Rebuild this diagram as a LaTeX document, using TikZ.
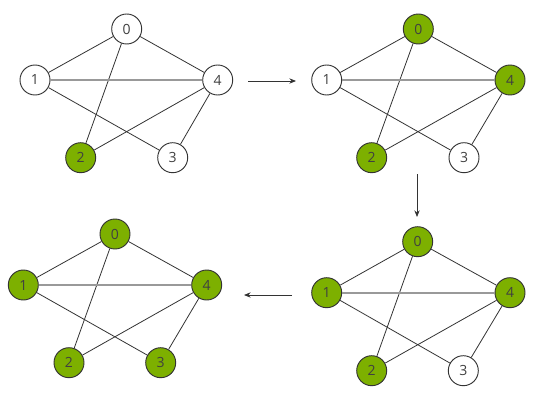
\documentclass[tikz,border=0pt]{standalone}
\usepackage{fontspec}
\setmainfont{Open Sans}
\usetikzlibrary{arrows.meta}
\definecolor{vgreen}{HTML}{7DB000}
\definecolor{edgec}{HTML}{333333}
\begin{document}
\begin{tikzpicture}[x=0.75pt,y=-0.75pt,
  vert/.style={circle,draw=edgec,line width=0.7pt,minimum size=22.5pt,inner sep=0pt,font=\fontsize{10.5}{12}\selectfont,text=black!75},
  wv/.style={vert,fill=white},
  gv/.style={vert,fill=vgreen},
  edge/.style={draw=edgec,line width=0.6pt},
  hedge/.style={draw=gray!80,line width=1.2pt},
  flow/.style={draw=edgec,line width=0.6pt,-{Stealth[length=5pt,width=4pt]}}]
\useasboundingbox (0,0) rectangle (541,406);
% graph A
\node[wv] (a0) at (126.7,29) {0};
\node[wv] (a1) at (35,80) {1};
\node[wv] (a4) at (217.7,80) {4};
\node[gv] (a2) at (80.7,157.7) {2};
\node[wv] (a3) at (172.7,157.7) {3};
% graph B
\node[gv] (b0) at (418.3,29) {0};
\node[wv] (b1) at (326.7,80) {1};
\node[gv] (b4) at (510,80) {4};
\node[gv] (b2) at (371.7,157.7) {2};
\node[wv] (b3) at (464,157.7) {3};
% graph C
\node[gv] (c0) at (417.7,241.7) {0};
\node[gv] (c1) at (326.7,292.7) {1};
\node[gv] (c4) at (510,292.7) {4};
\node[gv] (c2) at (371.7,370.7) {2};
\node[wv] (c3) at (463.3,370.7) {3};
% graph D
\node[gv] (d0) at (115,234) {0};
\node[gv] (d1) at (23.3,285) {1};
\node[gv] (d4) at (206.7,285) {4};
\node[gv] (d2) at (69,362.7) {2};
\node[gv] (d3) at (160.7,362.7) {3};
\foreach \g in {a,b,c,d}{
  \path[edge] (\g0) -- (\g1);
  \path[edge] (\g0) -- (\g4);
  \path[edge] (\g0) -- (\g2);
  \path[hedge] (\g1) -- (\g4);
  \path[edge] (\g1) -- (\g3);
  \path[edge] (\g4) -- (\g2);
  \path[edge] (\g4) -- (\g3);
}
% arrows
\coordinate (p1) at (248,81); \coordinate (q1) at (296,81);
\coordinate (p2) at (417,174); \coordinate (q2) at (417,217);
\coordinate (p3) at (292,295); \coordinate (q3) at (244,295);
\draw[flow] (p1) -- (q1);
\draw[flow] (p2) -- (q2);
\draw[flow] (p3) -- (q3);
\end{tikzpicture}
\end{document}
